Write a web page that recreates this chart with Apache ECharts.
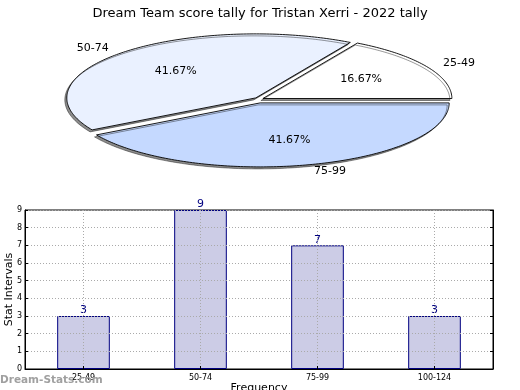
<!DOCTYPE html>
<html>
<head>
<meta charset="utf-8">
<script src="https://cdn.jsdelivr.net/npm/echarts@6/dist/echarts.min.js"></script>
<style>html,body{margin:0;padding:0;background:#fff;}#c{width:520px;height:390px;}</style>
</head>
<body>
<div id="c"></div>
<script>
const chartTitle = 'Dream Team score tally for Tristan Xerri - 2022 tally';
const pieLabels = ['25-49', '50-74', '75-99'];
const pieValues = [1, 2.5, 2.5];
const barCategories = ['25-49', '50-74', '75-99', '100-124'];
const barValues = [3, 9, 7, 3];
const yAxisName = 'Stat Intervals';
const xAxisName = 'Frequency';
const watermark = 'Dream-Stats.com';

const pieColors = ['#ffffff', '#eaf1ff', '#c5d9ff'];
const FONT = 'DejaVu Sans';
const pieTotal = pieValues.reduce((a, b) => a + b, 0);
const pieCum = [];
pieValues.reduce((acc, v, i) => { pieCum[i] = acc; return acc + v; }, 0);

function renderPie(params, api) {
  const i = params.dataIndex;
  const start = pieCum[i] / pieTotal * Math.PI * 2;
  const end = (pieCum[i] + pieValues[i]) / pieTotal * Math.PI * 2;
  const mid = (start + end) / 2;
  const ox = 4.5 * Math.cos(mid), oy = -3 * Math.sin(mid);
  const pt = (r, a) => {
    const c = api.coord([r * Math.cos(a), r * Math.sin(a)]);
    return [c[0] + ox, c[1] + oy];
  };
  const pts = [pt(0, 0)];
  const n = Math.max(8, Math.ceil((end - start) / (Math.PI / 180)));
  for (let k = 0; k <= n; k++) pts.push(pt(1, start + (end - start) * k / n));
  const inner = pt(0.6, mid);
  const outer = pt(1.1, mid);
  const pct = (pieValues[i] / pieTotal * 100).toFixed(2) + '%';
  return {
    type: 'group',
    children: [
      { type: 'polygon', shape: { points: pts },
        style: { fill: pieColors[i], stroke: '#000', lineWidth: 0.9,
                 shadowColor: 'rgba(0,0,0,0.45)', shadowOffsetX: -2, shadowOffsetY: 2, shadowBlur: 0.5 } },
      { type: 'text', x: inner[0], y: inner[1], z2: 10,
        style: { text: pct, fill: '#000', font: '11px "' + FONT + '"', align: 'center', verticalAlign: 'middle' } },
      { type: 'text', x: outer[0], y: outer[1], z2: 10,
        style: { text: pieLabels[i], fill: '#000', font: '11px "' + FONT + '"',
                 align: Math.cos(mid) >= 0 ? 'left' : 'right', verticalAlign: 'middle' } }
    ]
  };
}

const chart = echarts.init(document.getElementById('c'));
chart.setOption({
  animation: false,
  textStyle: { fontFamily: FONT },
  title: { text: chartTitle, left: 'center', top: 2,
           textStyle: { fontSize: 13, fontWeight: 'normal', color: '#000', fontFamily: FONT } },
  graphic: [{ type: 'text', left: 0, top: 375, z: 10,
              style: { text: watermark, fill: '#a0a0a0', font: 'bold 10.5px "' + FONT + '"' } }],
  grid: [
    { left: 70, top: 36, width: 378, height: 128, containLabel: false, outerBoundsMode: 'none' },
    { left: 25, right: 27, top: 210, bottom: 21, show: true, borderColor: '#000', borderWidth: 1,
      backgroundColor: 'transparent', containLabel: false, outerBoundsMode: 'none' }
  ],
  xAxis: [
    { gridIndex: 0, type: 'value', min: -1, max: 1, show: false },
    { gridIndex: 1, type: 'category', data: barCategories, z: 5,
      name: xAxisName, nameLocation: 'middle', nameGap: 14, nameMoveOverlap: false,
      nameTextStyle: { fontSize: 11, color: '#000' },
      axisLine: { lineStyle: { color: '#000' } },
      axisTick: { show: true, alignWithLabel: true, inside: true, length: 3, lineStyle: { color: '#000' } },
      axisLabel: { fontSize: 8, color: '#000', margin: 5 },
      splitLine: { show: true, alignWithLabel: true, lineStyle: { color: '#aaa', type: [1, 2], width: 1 } } }
  ],
  yAxis: [
    { gridIndex: 0, type: 'value', min: -1, max: 1, show: false },
    { gridIndex: 1, type: 'value', min: 0, max: 9, interval: 1, z: 5,
      name: yAxisName, nameLocation: 'middle', nameGap: 10, nameMoveOverlap: false,
      nameTextStyle: { fontSize: 11, color: '#000' },
      axisLine: { show: true, lineStyle: { color: '#000' } },
      axisTick: { show: true, inside: true, length: 3, lineStyle: { color: '#000' } },
      axisLabel: { fontSize: 8, color: '#000', margin: 3 },
      splitLine: { show: true, lineStyle: { color: '#aaa', type: [1, 2], width: 1 } } },
    { gridIndex: 1, type: 'value', min: 0, max: 9, interval: 1, position: 'right', z: 5,
      axisLine: { show: true, lineStyle: { color: '#000' } },
      axisTick: { show: true, inside: true, length: 3, lineStyle: { color: '#000' } },
      axisLabel: { show: false }, splitLine: { show: false } }
  ],
  series: [
    { type: 'custom', xAxisIndex: 0, yAxisIndex: 0, renderItem: renderPie,
      data: pieValues.map(v => [0, 0, v]), clip: false },
    { type: 'bar', xAxisIndex: 1, yAxisIndex: 1, data: barValues, barWidth: '45%',
      itemStyle: { color: '#ccccE6', borderColor: '#000080', borderWidth: 1 },
      label: { show: true, position: 'top', distance: 0, color: '#000080', fontSize: 11 } }
  ]
});
</script>
</body>
</html>
